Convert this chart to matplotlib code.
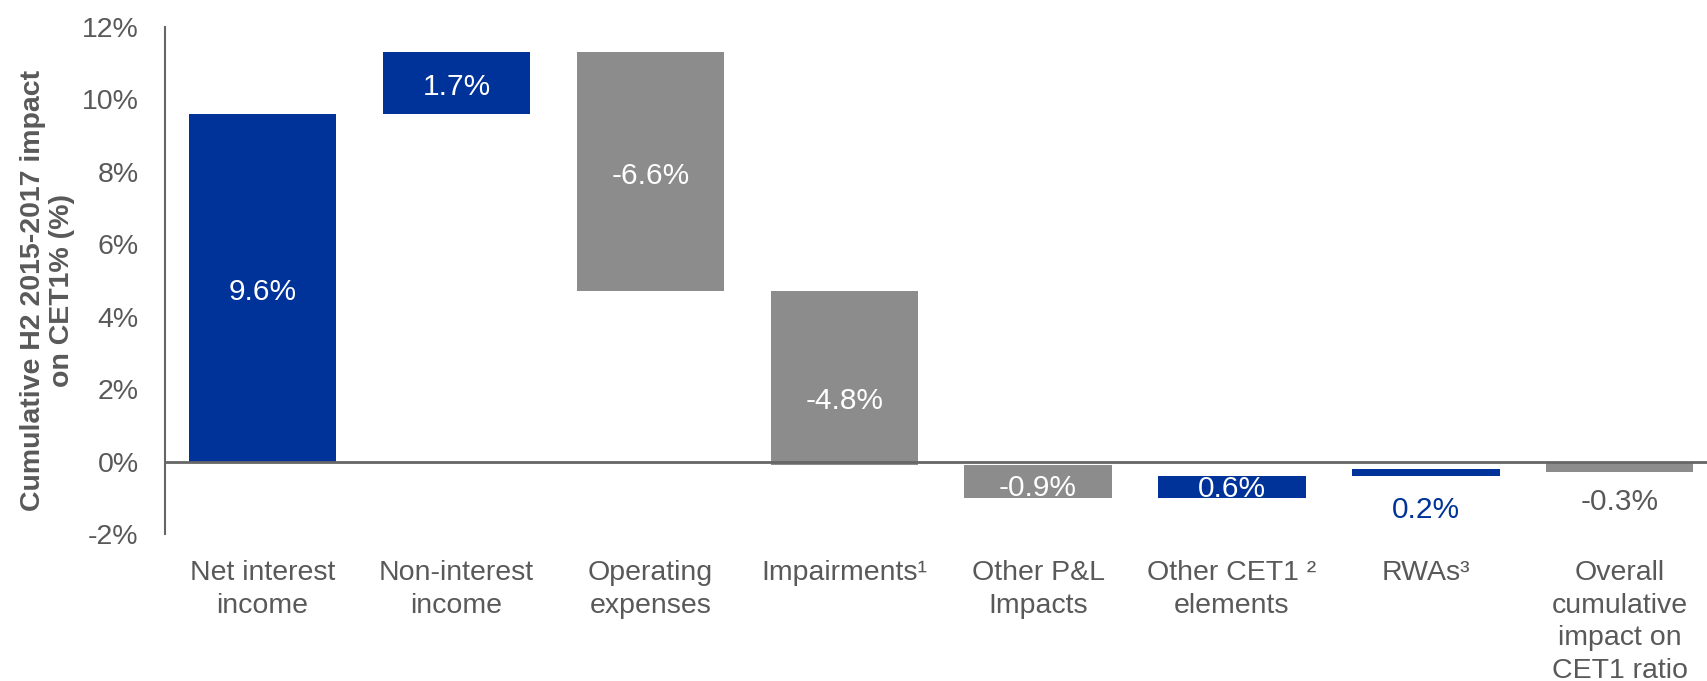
import matplotlib
matplotlib.use('Agg')
import matplotlib.pyplot as plt
import numpy as np

plt.rcParams['font.family'] = ['Liberation Sans', 'DejaVu Sans']

categories = ['Net interest\nincome', 'Non-interest\nincome', 'Operating\nexpenses',
              'Impairments\u00b9', 'Other P&L\nImpacts', 'Other CET1 \u00b2\nelements',
              'RWAs\u00b3', 'Overall\ncumulative\nimpact on\nCET1 ratio']
steps = [9.6, 1.7, -6.6, -4.8, -0.9, 0.6, 0.2]
total = -0.3
bar_labels = ['9.6%', '1.7%', '-6.6%', '-4.8%', '-0.9%', '0.6%', '0.2%', '-0.3%']

BLUE = '#003399'
GREY = '#8c8c8c'
TEXT = '#595959'

# waterfall: each step starts where the previous one ended, total starts at zero
bottoms = []
heights = []
running = 0.0
for s in steps:
    bottoms.append(running)
    heights.append(s)
    running += s
bottoms.append(0.0)
heights.append(total)
colors = [BLUE if h > 0 else GREY for h in heights]

fig = plt.figure(figsize=(17.07, 6.81), dpi=100)
ax = fig.add_axes([0.0967, 0.2159, 0.9033, 0.7445])

x = np.arange(len(categories))
ax.bar(x, heights, bottom=bottoms, width=0.76, color=colors, linewidth=0)

# label placement: inside the bar, except the two thin ones at the end
label_y = [b + h / 2 - 0.12 for b, h in zip(bottoms, heights)]
label_y[3] -= 0.5
label_y[4] -= 0.05
label_y[5] += 0.07
label_y[6] = bottoms[6] - 0.95
label_y[7] = -1.12
label_colors = ['white'] * 6 + [BLUE, TEXT]
for xi, yi, txt, c in zip(x, label_y, bar_labels, label_colors):
    ax.text(xi, yi, txt, ha='center', va='center', color=c, fontsize=21.5)

ax.axhline(0, color='#666666', linewidth=2, zorder=3)

ax.set_ylim(-2, 12)
ax.set_xlim(-0.503, 7.45)
ax.set_yticks(np.arange(-2, 13, 2))
ax.set_yticklabels([f'{v}%' for v in range(-2, 13, 2)])
ax.set_xticks(x)
ax.set_xticklabels(categories, linespacing=1.32)

ax.tick_params(axis='y', length=0, pad=19, labelsize=20.5, labelcolor=TEXT)
ax.tick_params(axis='x', length=0, pad=19, labelsize=20.5, labelcolor=TEXT)
for side in ['top', 'right', 'bottom']:
    ax.spines[side].set_visible(False)
ax.spines['left'].set_color('#666666')
ax.spines['left'].set_linewidth(1.5)

fig.text(0.0278, 0.574, 'Cumulative H2 2015-2017 impact\non CET1% (%)', rotation=90,
         ha='center', va='center', multialignment='center', fontsize=20.5,
         fontweight='bold', color=TEXT, linespacing=1.18)

fig.savefig('out.png', dpi=100)
